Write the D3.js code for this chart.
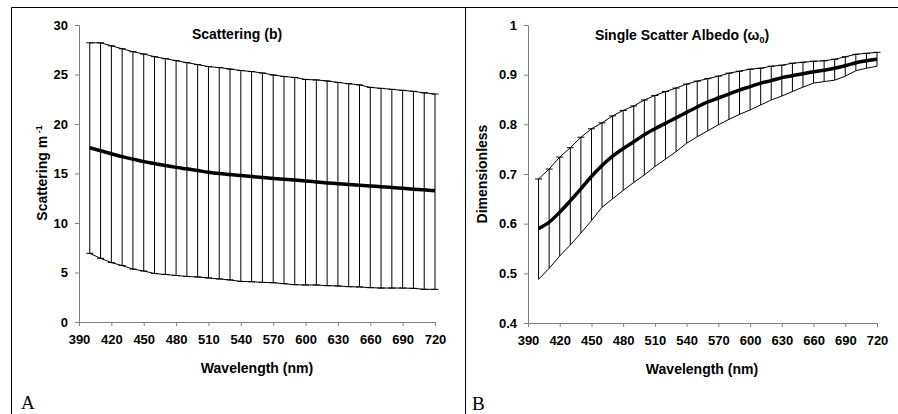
<!DOCTYPE html>
<html>
<head>
<meta charset="utf-8">
<script src="https://cdn.jsdelivr.net/npm/d3@7"></script>
<style>
  body { margin: 0; background: #fff; }
  text { font-family: "Liberation Sans", Arial, sans-serif; font-weight: bold; fill: #000; }
  .domain, .tick line { stroke: #808080; }
</style>
</head>
<body>
<script>
'use strict';

// wavelengths (nm) of each point / error bar
const wavelengths = [400, 410, 420, 430, 440, 450, 460, 470, 480, 490, 500, 510, 520, 530, 540, 550,
  560, 570, 580, 590, 600, 610, 620, 630, 640, 650, 660, 670, 680, 690, 700, 710, 720];

// panel A - scattering b (m^-1)
const scatMean = [17.6, 17.3, 17.0, 16.7, 16.45, 16.2, 16.0, 15.8, 15.62, 15.47, 15.3, 15.13, 15.0, 14.9, 14.8, 14.7,
  14.6, 14.5, 14.42, 14.34, 14.25, 14.15, 14.05, 13.97, 13.88, 13.81, 13.74, 13.66, 13.59, 13.5, 13.42, 13.35, 13.25];
const scatUpper = [28.2, 28.2, 27.9, 27.6, 27.3, 27.07, 26.8, 26.6, 26.4, 26.2, 26.0, 25.8, 25.7, 25.55, 25.4, 25.3,
  25.15, 24.95, 24.8, 24.7, 24.5, 24.45, 24.35, 24.2, 24.07, 23.95, 23.7, 23.6, 23.5, 23.4, 23.3, 23.15, 23.03];
const scatLower = [6.94, 6.43, 6.0, 5.7, 5.35, 5.15, 4.9, 4.8, 4.7, 4.6, 4.55, 4.45, 4.35, 4.25, 4.1, 4.07,
  4.0, 3.97, 3.87, 3.77, 3.74, 3.74, 3.67, 3.64, 3.57, 3.54, 3.47, 3.43, 3.43, 3.43, 3.4, 3.3, 3.3];

// panel B - single scatter albedo
const albMean = [0.59, 0.603, 0.623, 0.646, 0.67, 0.695, 0.717, 0.736, 0.751, 0.765, 0.779, 0.791, 0.802, 0.813, 0.824, 0.835,
  0.845, 0.853, 0.861, 0.869, 0.876, 0.883, 0.888, 0.894, 0.898, 0.902, 0.906, 0.909, 0.913, 0.918, 0.924, 0.928, 0.931];
const albUpper = [0.69, 0.71, 0.734, 0.753, 0.774, 0.791, 0.803, 0.817, 0.828, 0.837, 0.849, 0.858, 0.866, 0.873, 0.881, 0.887,
  0.892, 0.897, 0.903, 0.907, 0.911, 0.913, 0.917, 0.919, 0.923, 0.925, 0.927, 0.928, 0.931, 0.936, 0.941, 0.943, 0.945];
const albLower = [0.488, 0.51, 0.535, 0.557, 0.581, 0.606, 0.633, 0.65, 0.667, 0.683, 0.698, 0.715, 0.73, 0.745, 0.762, 0.775,
  0.787, 0.799, 0.81, 0.82, 0.829, 0.839, 0.849, 0.857, 0.866, 0.875, 0.883, 0.886, 0.889, 0.897, 0.908, 0.913, 0.917];

const xTicks = [390, 420, 450, 480, 510, 540, 570, 600, 630, 660, 690, 720];
const scatTicks = [0, 5, 10, 15, 20, 25, 30];
const albTicks = [0.4, 0.5, 0.6, 0.7, 0.8, 0.9, 1];

(function() {
  let svg = d3.select('body')
    .append('svg')
    .attr('width', 898)
    .attr('height', 414);

  // panel frame
  svg.append('path')
    .attr('d', 'M11.5,414V7.5H898M465.5,7.5V414')
    .attr('fill', 'none')
    .attr('stroke', '#000')
    .attr('stroke-width', 1);

  svg.append('text').attr('x', 21).attr('y', 409)
    .style('font-family', '"Liberation Serif", "Times New Roman", serif')
    .style('font-weight', 'normal').style('font-size', '19px').text('A');
  svg.append('text').attr('x', 472).attr('y', 410)
    .style('font-family', '"Liberation Serif", "Times New Roman", serif')
    .style('font-weight', 'normal').style('font-size', '19px').text('B');

  drawPanel({
    xRange: [79, 435], yRange: [322, 25], yDomain: [0, 30], yTicks: scatTicks,
    mean: scatMean, upper: scatUpper, lower: scatLower, lowCaps: true
  });
  drawPanel({
    xRange: [528, 877], yRange: [323, 25], yDomain: [0.4, 1], yTicks: albTicks,
    mean: albMean, upper: albUpper, lower: albLower, lowCaps: false
  });

  // titles
  svg.append('text').attr('x', 237).attr('y', 39)
    .attr('text-anchor', 'middle').style('font-size', '14px').text('Scattering (b)');
  let t2 = svg.append('text').attr('x', 682).attr('y', 40)
    .attr('text-anchor', 'middle').style('font-size', '14px');
  t2.append('tspan').text('Single Scatter Albedo (ω');
  t2.append('tspan').attr('dy', 3).style('font-size', '9px').text('0');
  t2.append('tspan').attr('dy', -3).text(')');

  svg.append('text').attr('x', 257).attr('y', 373)
    .attr('text-anchor', 'middle').style('font-size', '14px').text('Wavelength (nm)');
  svg.append('text').attr('x', 702).attr('y', 374)
    .attr('text-anchor', 'middle').style('font-size', '14px').text('Wavelength (nm)');

  let yl = svg.append('text')
    .attr('transform', 'translate(47, 173)rotate(-90)')
    .attr('text-anchor', 'middle').style('font-size', '14px');
  yl.append('tspan').text('Scattering m');
  yl.append('tspan').attr('dy', -5).style('font-size', '9px').text(' -1');

  svg.append('text')
    .attr('transform', 'translate(487, 174)rotate(-90)')
    .attr('text-anchor', 'middle').style('font-size', '14px').text('Dimensionless');

  function drawPanel(p) {
    let xScale = d3.scaleLinear().domain([390, 720]).range(p.xRange);
    let yScale = d3.scaleLinear().domain(p.yDomain).range(p.yRange);

    let xAxis = d3.axisBottom(xScale).tickValues(xTicks).tickSize(4).tickPadding(9)
      .tickFormat(d => String(d));
    svg.append('g')
      .attr('transform', 'translate(0,' + p.yRange[0] + ')')
      .call(xAxis)
      .call(g => g.selectAll('text').style('font-size', '13px'));

    let yAxis = d3.axisLeft(yScale).tickValues(p.yTicks).tickSize(4).tickPadding(7)
      .tickFormat(d => String(d));
    svg.append('g')
      .attr('transform', 'translate(' + p.xRange[0] + ',0)')
      .call(yAxis)
      .call(g => g.selectAll('text').style('font-size', '13px'));

    let rows = wavelengths.map((w, i) => ({ w: w, m: p.mean[i], u: p.upper[i], l: p.lower[i] }));

    // error bars
    let bars = svg.append('g').attr('stroke', '#000').attr('stroke-width', 1);
    bars.selectAll('.bar')
      .data(rows)
      .enter()
      .append('line')
        .attr('x1', d => xScale(d.w)).attr('x2', d => xScale(d.w))
        .attr('y1', d => yScale(d.u)).attr('y2', d => yScale(d.l));
    bars.selectAll('.cap')
      .data(rows)
      .enter()
      .append('line')
        .attr('x1', d => xScale(d.w) - 3.5).attr('x2', d => xScale(d.w) + 3.5)
        .attr('y1', d => yScale(d.u)).attr('y2', d => yScale(d.u));
    if (p.lowCaps) {
      bars.selectAll('.lcap')
        .data(rows)
        .enter()
        .append('line')
          .attr('x1', d => xScale(d.w) - 3.5).attr('x2', d => xScale(d.w) + 3.5)
          .attr('y1', d => yScale(d.l)).attr('y2', d => yScale(d.l));
    }

    let upLine = d3.line().x(d => xScale(d.w)).y(d => yScale(d.u));
    let lowLine = d3.line().x(d => xScale(d.w)).y(d => yScale(d.l));
    let meanLine = d3.line().x(d => xScale(d.w)).y(d => yScale(d.m)).curve(d3.curveMonotoneX);

    svg.append('path').attr('d', upLine(rows))
      .attr('fill', 'none').attr('stroke', '#000').attr('stroke-width', 1);
    svg.append('path').attr('d', lowLine(rows))
      .attr('fill', 'none').attr('stroke', '#000').attr('stroke-width', 1);
    svg.append('path').attr('d', meanLine(rows))
      .attr('fill', 'none').attr('stroke', '#000').attr('stroke-width', 3.5);
  }
})();
</script>
</body>
</html>
